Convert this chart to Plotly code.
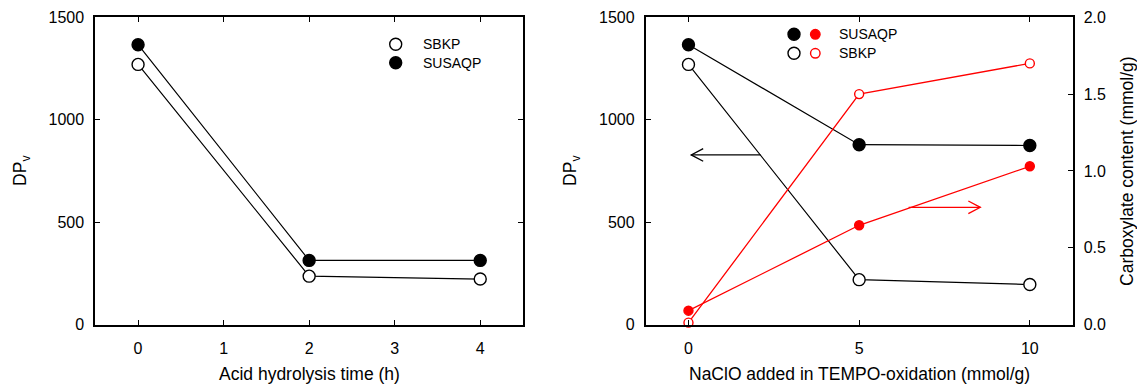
import plotly.graph_objects as go

W, H = 1137, 384

# ---------------- data ----------------
acid_time = [0, 2, 4]
acid_sbkp_dp = [1270, 236, 222]
acid_susaqp_dp = [1366, 313, 313]

naclo = [0, 5, 10]
tempo_susaqp_dp = [1366, 878, 874]
tempo_sbkp_dp = [1270, 219, 195]
tempo_susaqp_carb = [0.09, 0.646, 1.03]
tempo_sbkp_carb = [0.012, 1.50, 1.70]

left_xticks = [0, 1, 2, 3, 4]
right_xticks = [0, 5, 10]
dp_ticks = [0, 500, 1000, 1500]
carb_ticks = [0, 0.5, 1.0, 1.5, 2.0]
carb_ticklabels = ["0.0", "0.5", "1.0", "1.5", "2.0"]

# arrows: tail x, tip x, y
arrow_dp = [2.11, 0.08, 828]
arrow_carb = [6.45, 8.55, 0.763]

FONT = "Arial, Liberation Sans, sans-serif"
RED = "#ff0000"

fig = go.Figure()

def line_trace(x, y, xa, ya, color, filled, size, lw):
    return go.Scatter(
        x=x, y=y, xaxis=xa, yaxis=ya, mode="lines+markers",
        line=dict(color=color, width=lw),
        marker=dict(size=size, color=color if filled else "white",
                    line=dict(color=color, width=1.4)),
        showlegend=False, hoverinfo="x+y", cliponaxis=False,
    )

# left panel
fig.add_trace(line_trace(acid_time, acid_sbkp_dp, "x", "y", "black", False, 12, 1.2))
fig.add_trace(line_trace(acid_time, acid_susaqp_dp, "x", "y", "black", True, 12, 1.2))
# right panel
fig.add_trace(line_trace(naclo, tempo_susaqp_dp, "x2", "y2", "black", True, 12, 1.2))
fig.add_trace(line_trace(naclo, tempo_sbkp_dp, "x2", "y2", "black", False, 12, 1.2))
fig.add_trace(line_trace(naclo, tempo_susaqp_carb, "x2", "y3", RED, True, 9, 1.3))
fig.add_trace(line_trace(naclo, tempo_sbkp_carb, "x2", "y3", RED, False, 9, 1.3))

def px2x(px):
    return px / W

def px2y(py):
    return 1 - py / H

ydom = [px2y(324.5), px2y(17.3)]
ldom = [px2x(95.3), px2x(523.0)]
rdom = [px2x(645.8), px2x(1072.5)]

tickfont = dict(family=FONT, size=16, color="black")
common = dict(showline=True, linecolor="black", linewidth=2, ticks="inside",
              ticklen=5, tickwidth=1.3, tickcolor="black", showgrid=False,
              zeroline=False, tickfont=tickfont, automargin=False)

fig.update_layout(
    width=W, height=H,
    margin=dict(l=0, r=0, t=0, b=0, pad=0),
    plot_bgcolor="white", paper_bgcolor="white",
    font=dict(family=FONT, color="black"),
    xaxis=dict(domain=ldom, range=[-0.5, 4.5], tickvals=left_xticks,
               mirror="ticks", anchor="y", ticklabelstandoff=8, **common),
    yaxis=dict(domain=ydom, range=[0, 1500], tickvals=dp_ticks,
               mirror="ticks", anchor="x", ticklabelstandoff=6, **common),
    xaxis2=dict(domain=rdom, range=[-1.25, 11.25], tickvals=right_xticks,
                mirror="ticks", anchor="y2", ticklabelstandoff=8, **common),
    yaxis2=dict(domain=ydom, range=[0, 1500], tickvals=dp_ticks,
                mirror=True, anchor="x2", ticklabelstandoff=6, **common),
    yaxis3=dict(domain=ydom, range=[0, 2.0], tickvals=carb_ticks,
                ticktext=carb_ticklabels, overlaying="y2", side="right",
                anchor="x2", ticklabelstandoff=6, **common),
)

# axis titles
title_font = dict(family=FONT, size=17.5, color="black")
annots = [
    dict(text="Acid hydrolysis time (h)", x=(ldom[0] + ldom[1]) / 2, y=px2y(373.5),
         xanchor="center", yanchor="middle"),
    dict(text="NaClO added in TEMPO-oxidation (mmol/g)", x=(rdom[0] + rdom[1]) / 2,
         y=px2y(373.5), xanchor="center", yanchor="middle"),
    dict(text="DP<sub>v</sub>", x=px2x(22), y=(ydom[0] + ydom[1]) / 2,
         xanchor="center", yanchor="middle", textangle=-90),
    dict(text="DP<sub>v</sub>", x=px2x(572), y=(ydom[0] + ydom[1]) / 2,
         xanchor="center", yanchor="middle", textangle=-90),
    dict(text="Carboxylate content (mmol/g)", x=px2x(1127), y=(ydom[0] + ydom[1]) / 2,
         xanchor="center", yanchor="middle", textangle=-90),
]
for a in annots:
    fig.add_annotation(xref="paper", yref="paper", showarrow=False, font=title_font, **a)

# legends
leg_font = dict(family=FONT, size=14, color="black")
legend_rows = [
    # (marker specs list [(px_x, color, filled, diam)], py, label_x, label)
    ([(395.7, "black", False, 12)], 44.3, 421, "SBKP"),
    ([(395.7, "black", True, 12)], 62.8, 421, "SUSAQP"),
    ([(794, "black", True, 12), (815.3, RED, True, 9.5)], 34.3, 836.7, "SUSAQP"),
    ([(794, "black", False, 12), (815.3, RED, False, 9.5)], 53.3, 836.7, "SBKP"),
]
for markers, py, lx, label in legend_rows:
    for mx, col, filled, d in markers:
        r = d / 2
        fig.add_shape(type="circle", xref="paper", yref="paper",
                      xsizemode="pixel", ysizemode="pixel",
                      xanchor=px2x(mx), yanchor=px2y(py),
                      x0=-r, x1=r, y0=-r, y1=r,
                      line=dict(color=col, width=1.4),
                      fillcolor=col if filled else "white")
    fig.add_annotation(xref="paper", yref="paper", x=px2x(lx), y=px2y(py),
                       text=label, showarrow=False, xanchor="left",
                       yanchor="middle", font=leg_font)

# arrows (shaft + open V head), in data coordinates
xpx = 426.7 / 12.5  # px per x-unit in right panel
head_dx = 12 / xpx

def arrow(xt, xtip, y, yref, dy, color):
    sgn = 1 if xtip > xt else -1
    path_shaft = f"M {xt},{y} L {xtip},{y}"
    xb = xtip - sgn * head_dx
    path_head = f"M {xb},{y + dy} L {xtip},{y} L {xb},{y - dy}"
    for p in (path_shaft, path_head):
        fig.add_shape(type="path", path=p, xref="x2", yref=yref,
                      line=dict(color=color, width=1.3))

arrow(arrow_dp[0], arrow_dp[1], arrow_dp[2], "y2", 6.3 * 1500 / 307.2, "black")
arrow(arrow_carb[0], arrow_carb[1], arrow_carb[2], "y3", 6.3 * 2.0 / 307.2, RED)

fig.write_html(
    "out.html",
    config={"displayModeBar": False},
    post_script="document.body.style.margin='0px';document.body.style.overflow='hidden';",
)
